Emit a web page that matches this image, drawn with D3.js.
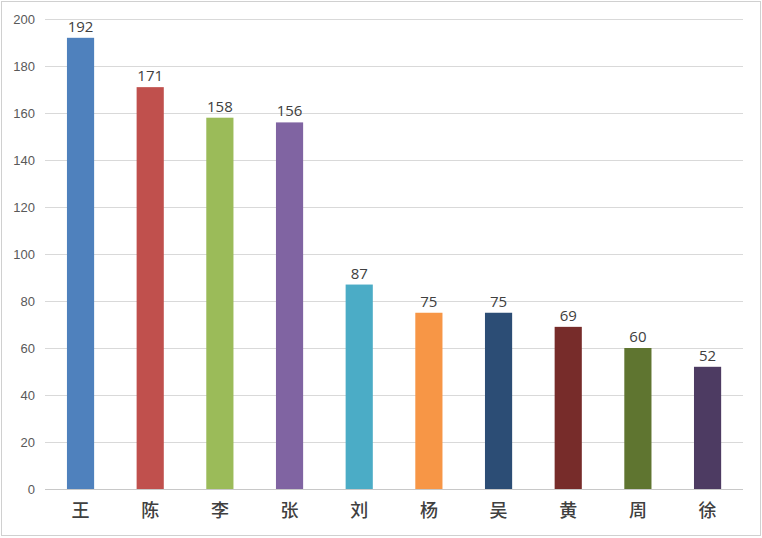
<!DOCTYPE html>
<html><head><meta charset="utf-8">
<script src="https://cdn.jsdelivr.net/npm/d3@7"></script>
<style>body{margin:0;background:#fff}svg{display:block}</style>
</head><body>
<script>
const categories = ["王","陈","李","张","刘","杨","吴","黄","周","徐"];
const values = [192,171,158,156,87,75,75,69,60,52];
const colors = ["#4F81BD","#C0504D","#9BBB59","#8064A2","#4BACC6","#F79646","#2C4D75","#772C2A","#5F7530","#4D3B62"];
const yTicks = [0,20,40,60,80,100,120,140,160,180,200];

const W=762,H=538;
const svg=d3.select("body").append("svg").attr("width",W).attr("height",H);
svg.append("rect").attr("x",1.5).attr("y",1.5).attr("width",W-3).attr("height",H-4)
  .attr("fill","#fff").attr("stroke","#d0d0d0").attr("stroke-width",1);

const x=d3.scaleBand().domain(categories).range([45.7,742.4]).paddingInner(0.61).paddingOuter(0.305);
const y=d3.scaleLinear().domain([0,200]).range([489,19]);

const grid=svg.append("g");
grid.selectAll("line").data(yTicks).join("line")
  .attr("x1",45).attr("x2",743).attr("y1",d=>y(d)+0.5).attr("y2",d=>y(d)+0.5)
  .attr("stroke",d=>d===0?"#c8c8c8":"#d9d9d9").attr("stroke-width",1);

const yAxis=svg.append("g").attr("transform","translate(35,0)")
  .call(d3.axisLeft(y).tickValues(yTicks).tickSize(0).tickPadding(0));
yAxis.select(".domain").remove();
yAxis.selectAll("text").attr("fill","#595959").style("font-family","'Liberation Sans',Arial,sans-serif").style("font-size","13px");

svg.append("g").selectAll("rect").data(values).join("rect")
  .attr("x",(d,i)=>x(categories[i])).attr("width",x.bandwidth())
  .attr("y",d=>y(d)).attr("height",d=>y(0)-y(d))
  .attr("fill",(d,i)=>colors[i]);

svg.append("g").selectAll("text").data(values).join("text")
  .attr("x",(d,i)=>x(categories[i])+x.bandwidth()/2).attr("y",d=>y(d)-6)
  .attr("text-anchor","middle").attr("fill","#404040")
  .style("font-family","'Open Sans','Liberation Sans',sans-serif").style("font-size","15px")
  .text(d=>d);

const xAxis=svg.append("g").attr("transform","translate(0,489)")
  .call(d3.axisBottom(x).tickSize(0).tickPadding(15));
xAxis.select(".domain").remove();
xAxis.selectAll("text").attr("fill","#404040").style("font-family","'Noto Sans CJK SC',sans-serif").style("font-size","18px").style("font-weight","500");
</script>
</body></html>
